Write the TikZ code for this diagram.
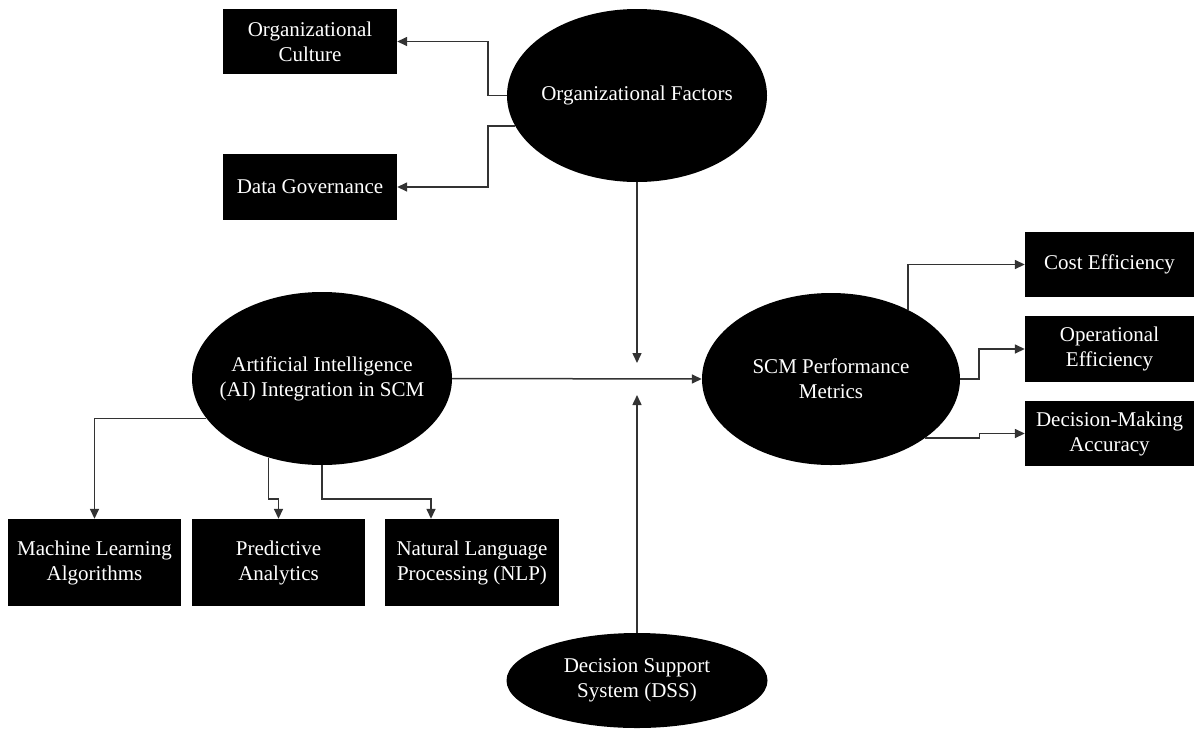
\documentclass[tikz,border=0pt]{standalone}
\usepackage{fontspec}
\setmainfont{Liberation Serif}
\usetikzlibrary{arrows.meta,shapes.geometric}
\begin{document}
\begin{tikzpicture}[x=1pt,y=-1pt,
  txt/.style={text=white,align=center,inner sep=0pt,font=\fontsize{21}{25}\selectfont},
  blob/.style={ellipse,fill=black,inner sep=0pt,minimum width=260pt,minimum height=173pt,label={[txt]center:#1}},
  tile/.style={rectangle,fill=black,text=white,inner sep=0pt,minimum width=174pt,align=center,font=\fontsize{21}{25}\selectfont},
  arr/.style={-{Triangle[length=10pt,width=9pt]},draw=black!80,line width=1.5pt}]
\useasboundingbox (0,0) rectangle (1194,729);
% ellipses
\node[blob={Organizational Factors}] (OF) at (637,95.5) {};
\node[blob={Artificial Intelligence\\(AI) Integration in SCM}] (AI) at (322,378.5) {};
\node[blob={SCM Performance\\Metrics},minimum width=258pt,minimum height=172pt] (SCM) at (831,379) {};
\node[blob={Decision Support\\System (DSS)},minimum width=261pt,minimum height=95pt] (DSS) at (637,680.5) {};
% boxes
\node[tile,minimum height=65pt] (OC) at (310,41.5) {Organizational\\Culture};
\node[tile,minimum height=66pt] (DG) at (310,187) {Data Governance};
\node[tile,minimum width=173pt,minimum height=87pt] (ML) at (94.5,562.5) {Machine Learning\\Algorithms};
\node[tile,minimum width=173pt,minimum height=87pt] (PA) at (278.5,562.5) {Predictive\\Analytics};
\node[tile,minimum height=87pt] (NLP) at (472,562.5) {Natural Language\\Processing (NLP)};
\node[tile,minimum width=169pt,minimum height=65pt] (CE) at (1109.5,264.5) {Cost Efficiency};
\node[tile,minimum width=169pt,minimum height=66pt] (OE) at (1109.5,349) {Operational\\Efficiency};
\node[tile,minimum width=169pt,minimum height=65pt] (DM) at (1109.5,433.5) {Decision-Making\\Accuracy};
\coordinate (mid) at (637,379);
\coordinate (aibus) at (0,499);
% connectors
\draw[arr] (OF.west) -- ++(-19,0) |- (OC.east);
\draw[arr] (OF.194) -- ++(-27,0) |- (DG.east);
\draw[arr] (OF.south) -- ([yshift=16pt]mid);
\draw[arr] (DSS.north) -- ([yshift=-16pt]mid);
\draw[arr] (AI.east) -- (SCM.west);
\draw[arr] (AI.199) -| (ML.north);
\draw[arr] (AI.236) -- (AI.236 |- aibus) -| (PA.north);
\draw[arr] (AI.south) -- (AI.south |- aibus) -| ([xshift=-41pt]NLP.north);
\draw[arr] (SCM.42) |- (CE.west);
\draw[arr] (SCM.east) -- ++(19,0) |- (OE.west);
\draw[arr] (SCM.328) -- ++(54,0) |- (DM.west);
\end{tikzpicture}
\end{document}
